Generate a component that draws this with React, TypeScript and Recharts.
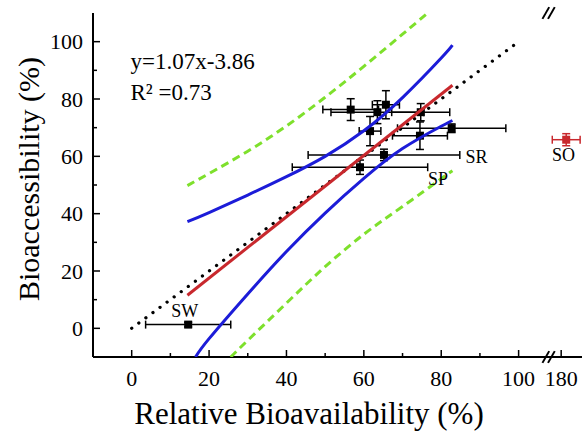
import { ScatterChart, Scatter, XAxis, YAxis, ZAxis, ErrorBar, ReferenceLine, Label } from "recharts";

const FONT = "'Liberation Serif', 'Times New Roman', serif";
const RED = "#c8282d";
const BLUE = "#1c1cd8";
const GREEN = "#7ee02c";

// soil samples (relative bioavailability vs bioaccessibility, %)
const sampleX = [56.6, 63.5, 65.7, 74.7, 61.6, 74.5, 82.7, 65.2, 59.0, 14.6];
const sampleY = [76.3, 75.4, 78.0, 75.4, 68.8, 67.2, 69.8, 60.5, 56.2, 1.3];
const sampleErrX = [7.2, 12.0, 3.5, 7.5, 2.8, 7.1, 14.0, 19.6, 17.5, 11.0];
const sampleErrY = [3.8, 4.0, 4.9, 3.0, 5.1, 4.8, 1.5, 2.0, 2.5, 0.8];

// outlier drawn past the axis break
const outlierX = [181.3];
const outlierY = [65.8];
const outlierErrX = [3.6];
const outlierErrY = [2.1];

// 1:1 line
const identityX = [0, 100];
const identityY = [0, 100];

// regression y = 1.07x - 3.86
const fitX = [14.4, 82.9];
const fitY = [11.55, 84.8];

// 95% confidence band
const confUpperX = [14.4, 20, 30, 40, 50, 60, 70, 80, 82.9];
const confUpperY = [37.2, 40.4, 46.5, 52.9, 60.0, 68.9, 80.5, 94.3, 98.8];
const confLowerX = [16.5, 20, 30, 40, 50, 60, 70, 80, 82.9];
const confLowerY = [-10, -3.6, 12.0, 26.8, 40.2, 52.3, 62.7, 70.5, 72.5];

// 95% prediction band
const predUpperX = [14.4, 20, 30, 40, 50, 60, 70, 76.5];
const predUpperY = [49.8, 54.0, 61.8, 70.6, 80.6, 91.4, 102.6, 110];
const predLowerX = [25.6, 30, 40, 50, 60, 70, 80, 82.9];
const predLowerY = [-10, -4.2, 8.8, 21.5, 32.8, 42.5, 52.2, 55.0];

const xTicks = [0, 10, 20, 30, 40, 50, 60, 70, 80, 90, 100];
const yTicks = [0, 10, 20, 30, 40, 50, 60, 70, 80, 90, 100];

const pointNames = ["SR", "SP", "SO", "SW"];
const pointNameX = [86.3, 76.6, 180.6, 13.7];
const pointNameY = [59.8, 52.1, 60.5, 6.0];

const equation = ["y=1.07x-3.86", "R\u00b2 =0.73"];
const equationX = [-0.3, -0.3];
const equationY = [93.0, 82.2];

// axis break: 180 is drawn at 111 on the continuous axis
const BREAK_FROM = 180;
const BREAK_AT = 111;
const BREAK_MARK = 107.75;
const toAxisX = (v: number) => (v > 150 ? BREAK_AT + (v - BREAK_FROM) : v);

const samples = sampleX.map((x, i) => ({ x, y: sampleY[i], ex: sampleErrX[i], ey: sampleErrY[i] }));
const outlier = outlierX.map((x, i) => ({ x: toAxisX(x), y: outlierY[i], ex: outlierErrX[i], ey: outlierErrY[i] }));
const pts = (xs: number[], ys: number[]) => xs.map((x, i) => ({ x, y: ys[i] }));
const names = pointNames.map((label, i) => ({ x: toAxisX(pointNameX[i]), y: pointNameY[i], label }));
const eqText = equation.map((label, i) => ({ x: equationX[i], y: equationY[i], label }));

const hidden = () => <g />;

const XTick = (props: any) => {
  const { x, y, payload } = props;
  const v = payload.value;
  const isBreak = v === BREAK_AT;
  const major = isBreak || v % 20 === 0;
  const text = isBreak ? String(BREAK_FROM) : v % 20 === 0 ? String(v) : "";
  return (
    <g>
      <line x1={x} x2={x} y1={y} y2={y - (major ? 7 : 4)} stroke="#000" strokeWidth={1.5} />
      {text && (
        <text x={x} y={y + 21} textAnchor="middle" dominantBaseline="central" fontFamily={FONT} fontSize={22} fill="#000">
          {text}
        </text>
      )}
    </g>
  );
};

const YTick = (props: any) => {
  const { x, y, payload } = props;
  const v = payload.value;
  const major = v % 20 === 0;
  return (
    <g>
      <line x1={x} x2={x + (major ? 7 : 4)} y1={y} y2={y} stroke="#000" strokeWidth={1.5} />
      {major && (
        <text x={x - 10} y={y} textAnchor="end" dominantBaseline="central" fontFamily={FONT} fontSize={22} fill="#000">
          {v}
        </text>
      )}
    </g>
  );
};

const nameShape = (anchor: (label: string) => string, size: number) => (p: any) => (
  <text
    x={p.cx}
    y={p.cy}
    textAnchor={anchor(p.payload.label)}
    dominantBaseline="central"
    fontFamily={FONT}
    fontSize={size}
    fill="#000"
  >
    {p.payload.label}
  </text>
);

const slash = (cx: number, cy: number) => [
  { x: cx - 0.87, y: cy - 2.05 },
  { x: cx + 0.87, y: cy + 2.05 },
];

const App = () => {
  return (
    <div style={{ position: "fixed", left: 0, top: 0, width: 582, height: 433, overflow: "hidden", background: "#fff" }}>
      <ScatterChart width={600} height={433} margin={{ top: 13, right: 4, bottom: 0, left: 0 }}>
        <ZAxis range={[81, 81]} />
        <XAxis
          xAxisId="x"
          type="number"
          dataKey="x"
          domain={[-10, 120]}
          ticks={[...xTicks, BREAK_AT]}
          interval={0}
          allowDataOverflow
          height={76}
          tickSize={0}
          tickMargin={0}
          tickLine={false}
          tick={<XTick />}
          axisLine={{ stroke: "#000", strokeWidth: 2 }}
        >
          <Label
            content={(p: any) => (
              <text
                x={p.viewBox.x + 216}
                y={p.viewBox.y + 56}
                textAnchor="middle"
                dominantBaseline="central"
                fontFamily={FONT}
                fontSize={31}
                fill="#000"
              >
                Relative Bioavailability (%)
              </text>
            )}
          />
        </XAxis>
        <XAxis
          xAxisId="top"
          orientation="top"
          type="number"
          dataKey="x"
          domain={[-10, 120]}
          height={0}
          tick={false}
          tickLine={false}
          axisLine={{ stroke: "#000", strokeWidth: 2 }}
        />
        <YAxis
          type="number"
          dataKey="y"
          domain={[-10, 110]}
          ticks={yTicks}
          interval={0}
          allowDataOverflow
          width={93}
          tickSize={0}
          tickMargin={0}
          tickLine={false}
          tick={<YTick />}
          axisLine={{ stroke: "#000", strokeWidth: 2 }}
        >
          <Label
            content={(p: any) => {
              const cx = 28;
              const cy = p.viewBox.y + 166;
              return (
                <text
                  x={cx}
                  y={cy}
                  transform={`rotate(-90, ${cx}, ${cy})`}
                  textAnchor="middle"
                  dominantBaseline="central"
                  fontFamily={FONT}
                  fontSize={30}
                  fill="#000"
                >
                  Bioaccessibility (%)
                </text>
              );
            }}
          />
        </YAxis>

        <Scatter xAxisId="x" data={samples} fill="#000" shape="square" isAnimationActive={false}>
          <ErrorBar dataKey="ex" direction="x" width={4} stroke="#000" strokeWidth={1.5} />
          <ErrorBar dataKey="ey" direction="y" width={4} stroke="#000" strokeWidth={1.5} />
        </Scatter>
        <Scatter xAxisId="x" data={outlier} fill={RED} shape="square" isAnimationActive={false}>
          <ErrorBar dataKey="ex" direction="x" width={4} stroke={RED} strokeWidth={1.5} />
          <ErrorBar dataKey="ey" direction="y" width={4} stroke={RED} strokeWidth={1.5} />
        </Scatter>

        <Scatter
          xAxisId="x"
          data={pts(identityX, identityY)}
          line={{ stroke: "#000", strokeWidth: 3.2, strokeDasharray: "0.1 8.7", strokeLinecap: "round" }}
          shape={hidden}
          isAnimationActive={false}
        />
        <Scatter
          xAxisId="x"
          data={pts(predUpperX, predUpperY)}
          line={{ stroke: GREEN, strokeWidth: 3, strokeDasharray: "8 5" }}
          lineJointType="natural"
          shape={hidden}
          isAnimationActive={false}
        />
        <Scatter
          xAxisId="x"
          data={pts(predLowerX, predLowerY)}
          line={{ stroke: GREEN, strokeWidth: 3, strokeDasharray: "8 5" }}
          lineJointType="natural"
          shape={hidden}
          isAnimationActive={false}
        />
        <Scatter
          xAxisId="x"
          data={pts(confUpperX, confUpperY)}
          line={{ stroke: BLUE, strokeWidth: 3 }}
          lineJointType="natural"
          shape={hidden}
          isAnimationActive={false}
        />
        <Scatter
          xAxisId="x"
          data={pts(confLowerX, confLowerY)}
          line={{ stroke: BLUE, strokeWidth: 3 }}
          lineJointType="natural"
          shape={hidden}
          isAnimationActive={false}
        />
        <Scatter
          xAxisId="x"
          data={pts(fitX, fitY)}
          line={{ stroke: RED, strokeWidth: 3 }}
          shape={hidden}
          isAnimationActive={false}
        />

        <Scatter
          xAxisId="x"
          data={names}
          shape={nameShape((l) => (l === "SR" || l === "SP" ? "start" : "middle"), 18)}
          isAnimationActive={false}
        />
        <Scatter xAxisId="x" data={eqText} shape={nameShape(() => "start", 23)} isAnimationActive={false} />

        {[BREAK_MARK - 0.72, BREAK_MARK + 0.72].map((cx) => (
          <ReferenceLine key={`b${cx}`} xAxisId="x" segment={slash(cx, -10)} stroke="#000" strokeWidth={2} ifOverflow="visible" />
        ))}
        {[BREAK_MARK - 0.72, BREAK_MARK + 0.72].map((cx) => (
          <ReferenceLine key={`t${cx}`} xAxisId="x" segment={slash(cx, 110)} stroke="#000" strokeWidth={2} ifOverflow="visible" />
        ))}
      </ScatterChart>
    </div>
  );
};

export default App;
